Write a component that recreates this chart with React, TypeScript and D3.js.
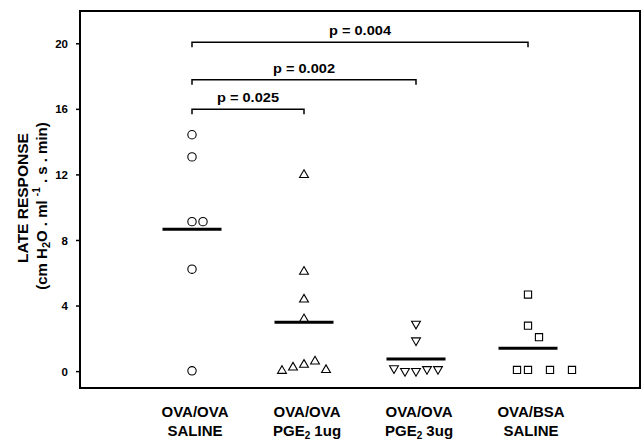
import React from "react";
import * as d3 from "d3";

const groups = ["g1", "g2", "g3", "g4"];
const groupLine1 = ["OVA/OVA", "OVA/OVA", "OVA/OVA", "OVA/BSA"];
const groupLine2Main = ["SALINE", "PGE", "PGE", "SALINE"];
const groupLine2Sub = ["", "2", "2", ""];
const groupLine2Rest = ["", " 1ug", " 3ug", ""];
const groupShapes = ["circle", "triangle", "triangleDown", "square"];

const values1 = [14.45, 13.1, 9.15, 9.15, 6.25, 0.05];
const values2 = [12.0, 6.1, 4.4, 3.2, 0.05, 0.25, 0.42, 0.62, 0.1];
const values3 = [2.92, 1.9, 0.2, 0.03, 0.03, 0.15, 0.15];
const values4 = [4.7, 2.8, 2.1, 0.1, 0.1, 0.1, 0.1];
const slots1 = [0, 0, 0, 1, 0, 0];
const slots2 = [0, 0, 0, 0, -2, -1, 0, 1, 2];
const slots3 = [0, 0, -2, -1, 0, 1, 2];
const slots4 = [0, 0, 1, -1, 0, 2, 4];
const allValues = [values1, values2, values3, values4];
const allSlots = [slots1, slots2, slots3, slots4];

const yTicks = [0, 4, 8, 12, 16, 20];

const bracketFrom = [0, 0, 0];
const bracketTo = [1, 2, 3];
const bracketLevel = [16.0, 17.8, 20.1];
const bracketLabels = ["p = 0.025", "p = 0.002", "p = 0.004"];

const W = 642;
const H = 440;
const left = 80, right = 640, top = 11, bottom = 388;
const font = "'Liberation Sans', Arial, Helvetica, sans-serif";

export default function App() {
  const x = d3.scalePoint<string>().domain(groups).range([left, right]).padding(1);
  const y = d3.scaleLinear().domain([-1, 22]).range([bottom, top]);
  const slotStep = 11;

  const symbolFor = (s: string) => {
    if (s === "circle") return d3.symbol().type(d3.symbolCircle).size(55)();
    if (s === "square") return d3.symbol().type(d3.symbolSquare).size(52)();
    return d3.symbol().type(d3.symbolTriangle).size(34)();
  };

  return (
    <svg width={W} height={H} style={{ position: "absolute", left: 0, top: 0, background: "#fff" }}>
      <rect x={left} y={top} width={right - left} height={bottom - top} fill="none" stroke="#000" strokeWidth={2} />
      {yTicks.map((t) => (
        <g key={t}>
          <line x1={left - 4} x2={left} y1={y(t)} y2={y(t)} stroke="#000" strokeWidth={1.5} />
          <text x={left - 12} y={y(t)} dy="0.35em" textAnchor="end" fontFamily={font} fontWeight="bold" fontSize={11.5}>
            {t}
          </text>
        </g>
      ))}
      <g transform={`translate(23,198) rotate(-90)`}>
        <text textAnchor="middle" fontFamily={font} fontWeight="bold" fontSize={15.5} dy="0.35em">LATE RESPONSE</text>
      </g>
      <g transform={`translate(42,206) rotate(-90)`}>
        <text textAnchor="middle" fontFamily={font} fontWeight="bold" fontSize={15} dy="0.35em">
          (cm H<tspan dy="3" fontSize={11}>2</tspan>
          <tspan dy="-3">O . ml </tspan>
          <tspan dy="-7" fontSize={10}>-1</tspan>
          <tspan dy="7">  . s . min)</tspan>
        </text>
      </g>
      {groups.map((g, gi) => {
        const cx = x(g) as number;
        const vals = allValues[gi];
        const mean = d3.mean(vals) as number;
        const path = symbolFor(groupShapes[gi]) as string;
        return (
          <g key={g}>
            {vals.map((v, i) => (
              <path
                key={i}
                d={path}
                transform={`translate(${cx + allSlots[gi][i] * slotStep},${y(v)})${groupShapes[gi] === "triangleDown" ? " rotate(180)" : ""}`}
                fill="none"
                stroke="#000"
                strokeWidth={1.1}
              />
            ))}
            <line x1={cx - 29.5} x2={cx + 29.5} y1={y(mean)} y2={y(mean)} stroke="#000" strokeWidth={3} />
            <text x={cx + 3} y={417} textAnchor="middle" fontFamily={font} fontWeight="bold" fontSize={15}>
              {groupLine1[gi]}
            </text>
            <text x={cx + 3} y={436} textAnchor="middle" fontFamily={font} fontWeight="bold" fontSize={15}>
              {groupLine2Main[gi]}
              {groupLine2Sub[gi] && (
                <tspan dy="3" fontSize={10}>{groupLine2Sub[gi]}</tspan>
              )}
              {groupLine2Rest[gi] && <tspan dy="-3">{groupLine2Rest[gi]}</tspan>}
            </text>
          </g>
        );
      })}
      {bracketLevel.map((lv, i) => {
        const x1 = x(groups[bracketFrom[i]]) as number;
        const x2 = x(groups[bracketTo[i]]) as number;
        const yy = y(lv);
        return (
          <g key={i}>
            <path d={`M${x1},${yy + 5}V${yy}H${x2}V${yy + 5}`} fill="none" stroke="#000" strokeWidth={1.5} />
            <text
              x={(x1 + x2) / 2}
              y={yy - 7}
              textAnchor="middle"
              fontFamily={font}
              fontWeight="bold"
              fontSize={13.5}
              textLength={62}
              lengthAdjust="spacingAndGlyphs"
            >
              {bracketLabels[i]}
            </text>
          </g>
        );
      })}
    </svg>
  );
}
